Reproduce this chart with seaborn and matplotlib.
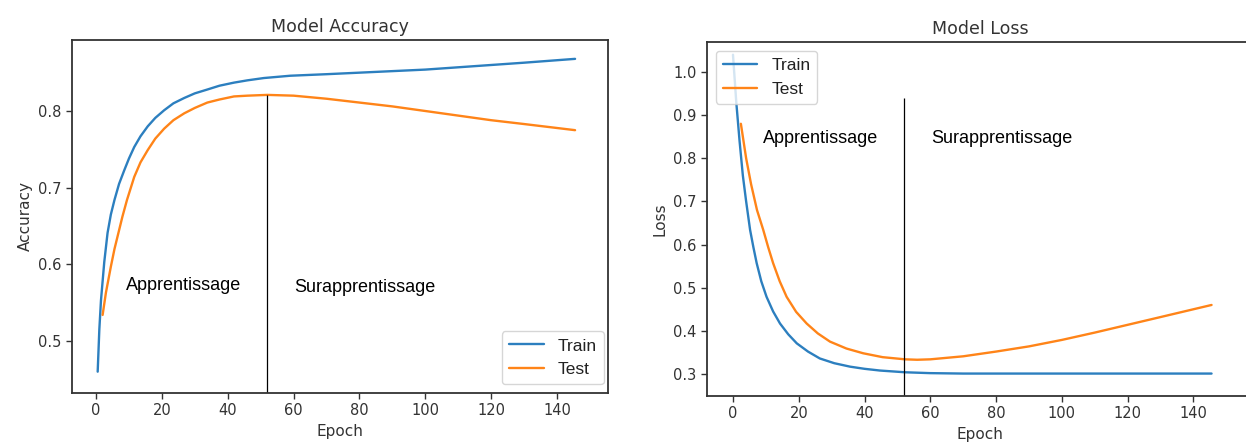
import matplotlib
matplotlib.use("Agg")
import matplotlib.pyplot as plt
import seaborn as sns
import pandas as pd

# accuracy curves
acc_train_epoch = [0.5, 1.0, 1.5, 2.5, 3.5, 4.5, 5.6, 7.0, 8.6, 10.0, 11.6, 13.5, 15.7,
                   18.0, 20.7, 23.5, 26.8, 30.0, 33.8, 37.5, 41.9, 46.0, 51.0, 59.0,
                   70, 80, 90, 100, 110, 120, 130, 145.5]
acc_train = [0.460, 0.515, 0.553, 0.603, 0.641, 0.665, 0.684, 0.705, 0.723, 0.738, 0.753,
             0.767, 0.780, 0.791, 0.801, 0.810, 0.817, 0.823, 0.828, 0.833, 0.837, 0.840,
             0.843, 0.846, 0.848, 0.850, 0.852, 0.854, 0.857, 0.860, 0.863, 0.868]
acc_test_epoch = [2.0, 3.0, 4.5, 5.6, 6.8, 8.0, 9.4, 11.6, 13.5, 15.7, 18.0, 20.7, 23.5,
                  26.8, 30.0, 33.8, 37.5, 41.9, 46.0, 52.0, 60, 70, 80, 90, 100, 110,
                  120, 130, 145.5]
acc_test = [0.534, 0.563, 0.597, 0.620, 0.641, 0.662, 0.684, 0.714, 0.733, 0.749, 0.764,
            0.777, 0.788, 0.797, 0.804, 0.811, 0.815, 0.819, 0.820, 0.821, 0.820, 0.816,
            0.811, 0.806, 0.800, 0.794, 0.788, 0.783, 0.775]

# loss curves
loss_train_epoch = [0.0, 1.0, 2.0, 3.0, 4.0, 5.2, 6.2, 7.2, 8.6, 10.2, 12.2, 14.3, 16.8,
                    19.4, 22.8, 26.4, 30.8, 35.6, 40.0, 44.7, 52.3, 59.9, 70, 80, 100,
                    120, 145.5]
loss_train = [1.040, 0.930, 0.840, 0.760, 0.700, 0.634, 0.594, 0.557, 0.515, 0.479, 0.445,
              0.417, 0.392, 0.371, 0.352, 0.336, 0.325, 0.317, 0.312, 0.308, 0.304, 0.302,
              0.301, 0.301, 0.301, 0.301, 0.301]
loss_test_epoch = [2.4, 4.0, 5.5, 7.3, 9.2, 10.7, 12.2, 14.2, 16.3, 19.2, 22.4, 25.8,
                   29.5, 34.5, 39.6, 45.5, 52.3, 56.0, 60, 70, 80, 90, 100, 110, 120,
                   130, 145.5]
loss_test = [0.880, 0.800, 0.740, 0.680, 0.634, 0.594, 0.557, 0.515, 0.479, 0.444, 0.417,
             0.394, 0.375, 0.359, 0.348, 0.339, 0.334, 0.333, 0.334, 0.341, 0.352, 0.364,
             0.379, 0.396, 0.414, 0.432, 0.460]

split_epoch_acc = 52
split_epoch_loss = 52
split_top_acc = 0.821
split_top_loss = 0.94

sns.set_style("ticks")
plt.rcParams["font.family"] = ["DejaVu Sans"]
plt.rcParams["axes.edgecolor"] = "#333333"
plt.rcParams["xtick.color"] = "#333333"
plt.rcParams["ytick.color"] = "#333333"
plt.rcParams["axes.labelcolor"] = "#333333"
plt.rcParams["text.color"] = "#222222"

palette = {"Train": "#2c7fbf", "Test": "#ff8418"}
arial = "Liberation Sans"


def make_df(ep_tr, v_tr, ep_te, v_te):
    a = pd.DataFrame({"epoch": ep_tr, "value": v_tr, "set": "Train"})
    b = pd.DataFrame({"epoch": ep_te, "value": v_te, "set": "Test"})
    return pd.concat([a, b], ignore_index=True)


W, H = 1246, 447
fig = plt.figure(figsize=(W / 100, H / 100), dpi=100)
ax1 = fig.add_axes([72 / W, 1 - 393 / H, (608 - 72) / W, (393 - 40) / H])
ax2 = fig.add_axes([707 / W, 1 - 396 / H, (1253 - 707) / W, (396 - 42) / H])

# accuracy
df_acc = make_df(acc_train_epoch, acc_train, acc_test_epoch, acc_test)
sns.lineplot(data=df_acc, x="epoch", y="value", hue="set", palette=palette,
             linewidth=1.7, ax=ax1)
ax1.set_xlim(-7.3, 155.5)
ax1.set_ylim(0.4322, 0.8926)
ax1.vlines(split_epoch_acc, 0.4322, split_top_acc, color="black", linewidth=0.9)
ax1.text(9.2, 0.572, "Apprentissage", family=arial, fontsize=13, va="center", color="black")
ax1.text(60.3, 0.570, "Surapprentissage", family=arial, fontsize=13, va="center", color="black")
ax1.set_title("Model Accuracy", fontsize=12.5, color="#333333")
ax1.set_xlabel("Epoch", fontsize=11)
ax1.set_ylabel("Accuracy", fontsize=11)
ax1.set_xticks([0, 20, 40, 60, 80, 100, 120, 140])
ax1.set_yticks([0.5, 0.6, 0.7, 0.8])
ax1.legend(loc="lower right", bbox_to_anchor=(1.008, 0.0),
           prop={"family": arial, "size": 12.5})

# loss
df_loss = make_df(loss_train_epoch, loss_train, loss_test_epoch, loss_test)
sns.lineplot(data=df_loss, x="epoch", y="value", hue="set", palette=palette,
             linewidth=1.7, ax=ax2)
ax2.set_xlim(-7.9, 158.1)
ax2.set_ylim(0.249, 1.0695)
ax2.vlines(split_epoch_loss, 0.249, split_top_loss, color="black", linewidth=0.9)
ax2.text(9.1, 0.845, "Apprentissage", family=arial, fontsize=13, va="center", color="black")
ax2.text(60.2, 0.845, "Surapprentissage", family=arial, fontsize=13, va="center", color="black")
ax2.set_title("Model Loss", fontsize=12.5, color="#333333")
ax2.set_xlabel("Epoch", fontsize=11)
ax2.set_ylabel("Loss", fontsize=11)
ax2.set_xticks([0, 20, 40, 60, 80, 100, 120, 140])
ax2.set_yticks([0.3, 0.4, 0.5, 0.6, 0.7, 0.8, 0.9, 1.0])
ax2.legend(loc="upper left", prop={"family": arial, "size": 12.5})

for ax in (ax1, ax2):
    ax.tick_params(labelsize=10.5, length=4, width=1)
    for s in ax.spines.values():
        s.set_linewidth(1.3)

fig.savefig("out.png", dpi=100)
